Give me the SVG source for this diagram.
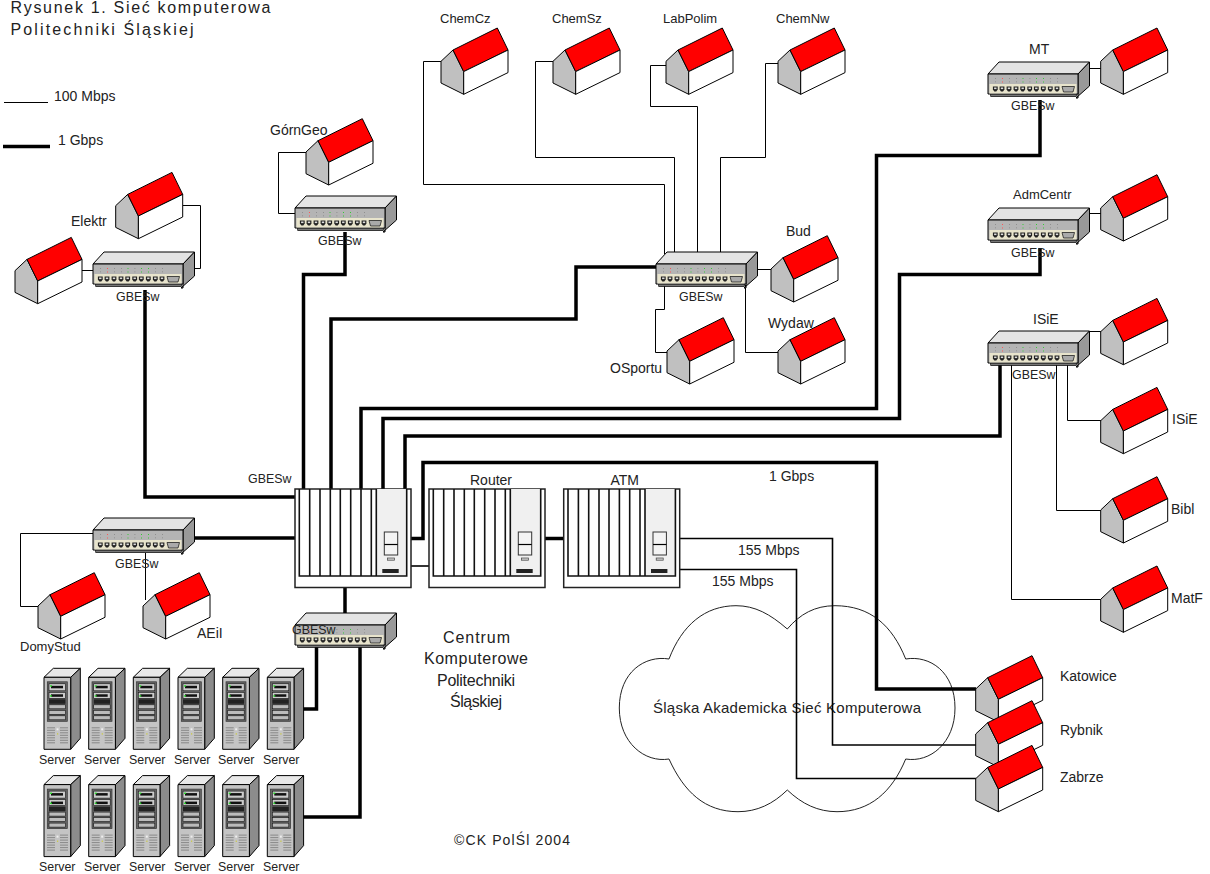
<svg xmlns="http://www.w3.org/2000/svg" width="1210" height="874" viewBox="0 0 1210 874">
<style>
text{font-family:"Liberation Sans",Arial,sans-serif;font-size:14px;fill:#222}
.h{font-size:16px}
.s{font-size:12.4px}
.n{font-size:13px}
.t{fill:none;stroke:#000;stroke-width:1}
.k{fill:none;stroke:#000;stroke-width:3.5}
.m{fill:none;stroke:#000;stroke-width:1.6}
.o{stroke:#000;stroke-width:1;stroke-linejoin:round}
</style>
<defs>
<symbol id="house" overflow="visible">
<path class="o" fill="#c0c0c0" d="M0 0L12 -11.3L22.7 10.3V33L0 21.700Z"/>
<path class="o" fill="#f00" d="M12 -11.3L56.3 -33.3L67 -11.3L22.7 10.3Z"/>
<path class="o" fill="#fff" d="M22.7 10.3L67 -11.3V11.3L22.7 33Z"/>
</symbol>
<g id="port"><path d="M-2.4 -2.5H2.4V0.5L1 2.5H-1L-2.4 0.5Z" fill="#222"/><rect x="-1.2" y="-1.5" width="2.4" height="1.6" fill="#ddd"/></g>
<symbol id="sw" overflow="visible">
<path class="o" fill="#e4e4e4" d="M0 12L11 0H101.5L90 12Z"/>
<path class="o" fill="#999" d="M90 12L101.5 0V24L88 36H90Z"/>
<rect x="2.7" y="31" width="85.6" height="3.5" fill="#777" stroke="#000" stroke-width=".7"/>
<rect class="o" x="0" y="12" width="90" height="20" fill="#b4b4b4"/>
<rect x="1.5" y="22" width="87" height="9.500" fill="#e8e4cc"/>
<path fill="#777" d="M7 16h.8v.8H7zM7 19.500h.8v.8H7zM21 16h.8v.8H21zM21 19.500h.8v.8H21zM28 16h.8v.8H28zM28 19.500h.8v.8H28zM41.500 16h.8v.8h-.8zM41.500 19.500h.8v.8h-.8zM62 16h.8v.8H62zM62 19.500h.8v.8H62zM69 16h.8v.8H69zM69 19.500h.8v.8H69z"/>
<path fill="#f55" d="M14 16h1v1h-1zM14 19.500h1v1h-1z"/>
<path fill="#3c3" d="M34.500 16h1v1h-1zM34.500 19.500h1v1h-1zM48 16h1v1h-1zM48 19.500h1v1h-1zM55 16h1v1h-1zM55 19.500h1v1h-1z"/>
<use href="#port" x="7.3" y="27"/><use href="#port" x="14" y="27"/><use href="#port" x="21" y="27"/><use href="#port" x="28" y="27"/><use href="#port" x="34.7" y="27"/><use href="#port" x="41.7" y="27"/><use href="#port" x="48.3" y="27"/><use href="#port" x="55.3" y="27"/><use href="#port" x="62.3" y="27"/><use href="#port" x="69" y="27"/>
<path d="M74 24.500H86.500L85 30H75.500Z" fill="#aaa" stroke="#222" stroke-width=".8"/>
</symbol>
<symbol id="chassis" overflow="visible">
<rect x="0" y="0" width="116" height="98.500" fill="#fff" stroke="#222" stroke-width="1.5"/>
<rect x="81.3" y="0" width="30.4" height="87" fill="#f0f0f0"/>
<path d="M4.3 0V87H111.700V0M14.700 0V87M25 0V87M35.300 0V87M45.300 0V87M55.700 0V87M66 0V87M76.300 0V87M81.300 0V87" fill="none" stroke="#111" stroke-width="1.6"/>
<rect x="89.3" y="43" width="13.400" height="23" fill="#f4f4f4" stroke="#333" stroke-width="1"/>
<path d="M89.300 55.500H102.700" stroke="#000" stroke-width="1.2"/>
<rect x="92.500" y="69" width="7" height="2.200" fill="#ccc" stroke="#444" stroke-width=".7"/>
<rect x="87.300" y="80" width="16.400" height="4" fill="#222"/>
</symbol>
<symbol id="srv" overflow="visible">
<path class="o" fill="#e8e8e8" d="M0 0L9.300 -9H36.300L26.700 0Z"/>
<path class="o" fill="#8c8c8c" d="M26.700 0L36.300 -9V61L26.700 72Z"/>
<rect class="o" x="0" y="0" width="26.700" height="72" fill="#c4c4c4"/>
<rect x="3.300" y="4.500" width="20" height="39.500" fill="#666" stroke="#333" stroke-width=".7"/>
<rect x="5" y="6.500" width="16.500" height="7" fill="#ccc" stroke="#111" stroke-width=".6"/>
<rect x="7" y="8.500" width="12" height="2.500" fill="#111"/>
<rect x="6" y="8" width="2" height="1.300" fill="#2d2"/>
<rect x="5" y="15" width="16.500" height="6" fill="#ccc" stroke="#111" stroke-width=".6"/>
<rect x="7" y="17" width="12" height="2.500" fill="#111"/>
<rect x="6" y="18" width="2" height="1.300" fill="#2d2"/>
<rect x="5" y="22" width="16.500" height="4.500" fill="#222"/>
<rect x="5" y="27.500" width="16.500" height="4" fill="#bbb" stroke="#111" stroke-width=".6"/>
<rect x="5" y="33" width="16.500" height="4" fill="#bbb" stroke="#111" stroke-width=".6"/>
<rect x="5" y="38.500" width="16.500" height="4" fill="#bbb" stroke="#111" stroke-width=".6"/>
<path d="M3 50.500h8M3 53h8M3 55.500h8M3 58h8M3 60.500h8M3 63h8M3 65.500h8M16 50.500h8M16 53h8M16 55.500h8M16 58h8M16 60.500h8M16 63h8M16 65.500h8" stroke="#888" stroke-width="1"/>
<rect x="12.500" y="51" width="2" height="2" fill="#eee"/>
<rect x="13" y="56" width="1.200" height="1.200" fill="#cc3"/>
</symbol>
</defs>
<rect width="1210" height="874" fill="#fff"/>

<g id="title">
<text class="h" x="10.500" y="13" textLength="260">Rysunek 1. Sieć komputerowa</text>
<text class="h" x="10.500" y="35" textLength="183">Politechniki Śląskiej</text>
</g>
<g id="legend">
<path class="t" d="M4 102.500H48"/>
<path class="k" d="M3 146.500H50"/>
<text x="54" y="101">100 Mbps</text>
<text x="58" y="145">1 Gbps</text>
</g>

<g id="cloud">
<path fill="#fff" stroke="#222" stroke-width="1" d="M787.300 629C770 614 755 605.700 736 605.700C705 605.700 682 625 669 659C645 655 619.300 672 619.300 708C619.300 743 645 763 669 759C684 792 705 811.700 738 811.700C757 811.700 773 804 787.300 790C802 804 818 811.700 837 811.700C870 811.700 892 792 905.700 759C930 763 955 743 955 708C955 672 930 655 905.700 659C892 625 870 605.700 835 605.700C815 605.700 800 614 787.300 629Z"/>
<text x="653" y="712.500" style="font-size:15px" textLength="268">Śląska Akademicka Sieć Komputerowa</text>
</g>

<g id="connectors">
<path class="k" d="M145 290V497H295"/>
<path class="k" d="M345 232V274.500H303.500V489"/>
<path class="k" d="M656 267H576V319H331V489"/>
<path class="k" d="M1040 100V155.500H876.500V408.500H361V489"/>
<path class="k" d="M1040 248V274.500H899.500V418.500H383V489"/>
<path class="k" d="M1000 365V436H405V489"/>
<path class="k" d="M410 538.500H423V462.500H876.500V689H976"/>
<path class="k" d="M545 538.500H564"/>
<path class="m" d="M410.500 566H429"/>
<path class="k" d="M183 538H295"/>
<path class="k" d="M345 588V613"/>
<path class="k" d="M298 709H316.500V640"/>
<path class="k" d="M298 817H360V640"/>
<path class="m" d="M680 538.500H832.500V745H976"/>
<path class="m" d="M680 569.500H796.500V778.500H976"/>
<path class="t" d="M441 61.500H423.500V184.500H664.500V254"/>
<path class="t" d="M553 61.500H535.500V157.500H674.500V254"/>
<path class="t" d="M666 65.500H650.500V106.500H697.500V254"/>
<path class="t" d="M778 63.500H765.500V157.500H720.500V254"/>
<path class="t" d="M746 269.500H771"/>
<path class="t" d="M745.500 285V352.500H779"/>
<path class="t" d="M664.500 285V309.500H655.500V352.500H668"/>
<path class="t" d="M306 152.500H278.500V213.500H296"/>
<path class="t" d="M183 205.500H200.500V268.500H186"/>
<path class="t" d="M82 270.500H94"/>
<path class="t" d="M1090 68.500H1101"/>
<path class="t" d="M1090 213.500H1101"/>
<path class="t" d="M1088 331.500H1101"/>
<path class="t" d="M1067.500 365V420.500H1101"/>
<path class="t" d="M1056.500 365V510.500H1101"/>
<path class="t" d="M1011.500 365V599.500H1101"/>
<path class="t" d="M95 533.500H20.500V606.500H39"/>
<path class="t" d="M145.500 553V600"/>
</g>

<g id="sw-elektr"><use href="#sw" x="93" y="252"/><text class="s" x="116" y="301">GBESw</text></g>
<g id="sw-gorngeo"><use href="#sw" x="295" y="196"/><text class="s" x="318" y="245">GBESw</text></g>
<g id="sw-center"><use href="#sw" x="656" y="252"/><text class="s" x="679" y="301">GBESw</text></g>
<g id="sw-mt"><use href="#sw" x="988" y="62"/><text class="s" x="1011" y="110">GBESw</text><text x="1029" y="54">MT</text></g>
<g id="sw-adm"><use href="#sw" x="988" y="208"/><text class="s" x="1011" y="257">GBESw</text><text class="n" x="1013" y="199">AdmCentr</text></g>
<g id="sw-isie"><use href="#sw" x="988" y="331"/><text class="s" x="1012" y="379">GBESw</text><text x="1033" y="324">ISiE</text></g>
<g id="sw-left"><use href="#sw" x="93" y="518"/><text class="s" x="115" y="568">GBESw</text></g>
<g id="sw-server"><use href="#sw" x="295" y="613"/><text class="s" x="292" y="634">GBESw</text></g>

<g id="h-elektr"><use href="#house" x="115.700" y="205.700"/><text x="71" y="226">Elektr</text></g>
<g id="h-elektr2"><use href="#house" x="15" y="270.700"/></g>
<g id="h-gorngeo"><use href="#house" x="306" y="152"/><text x="270" y="135">GórnGeo</text></g>
<g id="h-chemcz"><use href="#house" x="441" y="61.300"/><text class="n" x="440" y="23">ChemCz</text></g>
<g id="h-chemsz"><use href="#house" x="553" y="61.300"/><text class="n" x="552" y="23">ChemSz</text></g>
<g id="h-labpolim"><use href="#house" x="666" y="61.300"/><text class="n" x="663" y="23">LabPolim</text></g>
<g id="h-chemnw"><use href="#house" x="778" y="61.300"/><text class="n" x="776" y="23">ChemNw</text></g>
<g id="h-bud"><use href="#house" x="771" y="269"/><text x="786" y="236">Bud</text></g>
<g id="h-wydaw"><use href="#house" x="778" y="351"/><text x="768" y="328">Wydaw</text></g>
<g id="h-osportu"><use href="#house" x="667" y="351"/><text x="610" y="373">OSportu</text></g>
<g id="h-mt"><use href="#house" x="1100.700" y="61.300"/></g>
<g id="h-adm"><use href="#house" x="1100.700" y="208"/></g>
<g id="h-isie"><use href="#house" x="1100.700" y="331.700"/></g>
<g id="h-isie2"><use href="#house" x="1100.700" y="420.700"/><text x="1172" y="424">ISiE</text></g>
<g id="h-bibl"><use href="#house" x="1100.700" y="510"/><text x="1171" y="514">Bibl</text></g>
<g id="h-matf"><use href="#house" x="1100.700" y="599.300"/><text x="1171" y="603">MatF</text></g>
<g id="h-domy"><use href="#house" x="38" y="606"/><text class="n" x="20" y="651">DomyStud</text></g>
<g id="h-aeil"><use href="#house" x="143" y="606"/><text x="197" y="638">AEiI</text></g>
<g id="h-katowice"><use href="#house" x="975.700" y="689"/><text x="1060" y="681">Katowice</text></g>
<g id="h-rybnik"><use href="#house" x="975.700" y="734"/><text x="1060" y="735">Rybnik</text></g>
<g id="h-zabrze"><use href="#house" x="975.700" y="778.700"/><text x="1060" y="782">Zabrze</text></g>

<g id="main-sw"><use href="#chassis" x="295" y="489"/><text class="s" x="248" y="483">GBESw</text></g>
<g id="router"><use href="#chassis" x="429" y="489"/><text x="470" y="485">Router</text></g>
<g id="atm"><use href="#chassis" x="563.700" y="489"/><text x="610.500" y="485">ATM</text></g>

<g id="servers">
<use href="#srv" x="44" y="677.300"/><use href="#srv" x="88.700" y="677.300"/><use href="#srv" x="133.300" y="677.300"/><use href="#srv" x="178" y="677.300"/><use href="#srv" x="222.700" y="677.300"/><use href="#srv" x="267.300" y="677.300"/>
<use href="#srv" x="44" y="784.600"/><use href="#srv" x="88.700" y="784.600"/><use href="#srv" x="133.300" y="784.600"/><use href="#srv" x="178" y="784.600"/><use href="#srv" x="222.700" y="784.600"/><use href="#srv" x="267.300" y="784.600"/>
<text class="s" x="39" y="764">Server</text><text class="s" x="84" y="764">Server</text><text class="s" x="129" y="764">Server</text><text class="s" x="174" y="764">Server</text><text class="s" x="218" y="764">Server</text><text class="s" x="263" y="764">Server</text>
<text class="s" x="39" y="871">Server</text><text class="s" x="84" y="871">Server</text><text class="s" x="129" y="871">Server</text><text class="s" x="174" y="871">Server</text><text class="s" x="218" y="871">Server</text><text class="s" x="263" y="871">Server</text>
</g>

<g id="labels">
<text x="769" y="481">1 Gbps</text>
<text x="738" y="555">155 Mbps</text>
<text x="712" y="586">155 Mbps</text>
<text class="h" x="443" y="642.500" textLength="67">Centrum</text>
<text class="h" x="424" y="664" textLength="104">Komputerowe</text>
<text class="h" x="437" y="686" textLength="78">Politechniki</text>
<text class="h" x="450" y="707" textLength="52">Śląskiej</text>
<text x="454" y="845" textLength="116">©CK PolŚl 2004</text>
</g>
</svg>
